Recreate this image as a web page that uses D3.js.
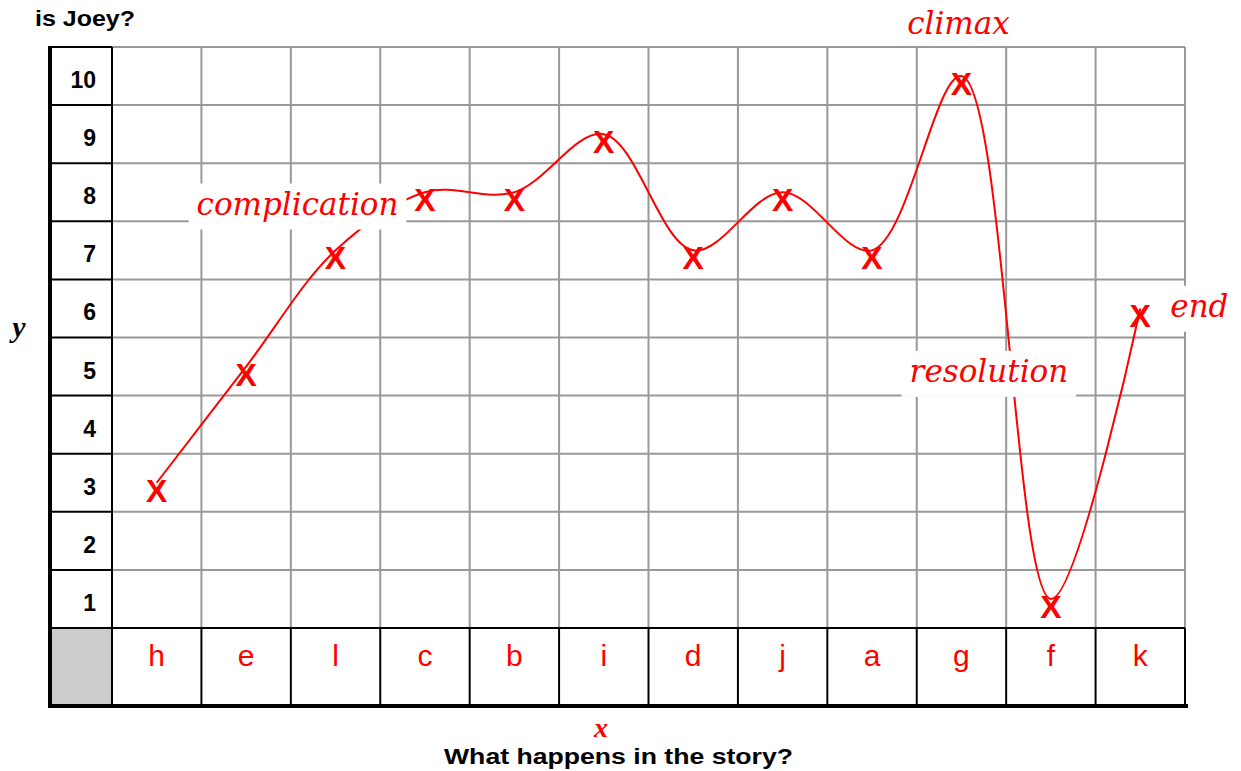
<!DOCTYPE html>
<html>
<head>
<meta charset="utf-8">
<script src="https://cdn.jsdelivr.net/npm/d3@7"></script>
<style>
  body { margin: 0; background: #fff; }
  svg { display: block; }
</style>
</head>
<body>
<div id="chart"></div>
<script>
// story events along the x axis, in drawing order
const categories = ["h", "e", "l", "c", "b", "i", "d", "j", "a", "g", "f", "k"];
// how happy Joey is at each event
const happiness = [3, 5, 7, 8, 8, 9, 7, 8, 7, 10, 1, 6];
const yTicks = [1, 2, 3, 4, 5, 6, 7, 8, 9, 10];

// story-arc notes, anchored to an event and a happiness level
const noteText = ["complication", "climax", "resolution", "end"];
const noteEvent = ["l", "g", "f", "k"];
const noteLevel = [7.5, 10, 4.5, 5.5];

var width = 1241, height = 771;
var m = {left: 50, label: 112, right: 1185, top: 47, grid: 628, bottom: 706};
var sansFont = "Arial, 'Liberation Sans', sans-serif";
var serifFont = "'Liberation Serif', 'Times New Roman', serif";

var svg = d3.select("#chart").append("svg")
    .attr("width", width)
    .attr("height", height);

var x = d3.scaleBand()
    .domain(categories)
    .range([m.label, m.right]);

var y = d3.scaleLinear()
    .domain([0, 10])
    .range([m.grid, m.top]);

var cx = function(c) { return x(c) + x.bandwidth() / 2; };
var colEdges = categories.slice(1).map(function(c) { return x(c); }).concat([m.right]);

// grey corner cell
svg.append("rect")
    .attr("x", m.left).attr("y", m.grid)
    .attr("width", m.label - m.left).attr("height", m.bottom - m.grid)
    .attr("fill", "#cccccc");

// grid lines (grey)
var grid = svg.append("g").attr("stroke", "#999").attr("stroke-width", 2);
grid.selectAll(".h")
    .data(d3.range(1, 11))
    .enter().append("line")
    .attr("x1", m.label).attr("x2", m.right)
    .attr("y1", function(d) { return y(d); })
    .attr("y2", function(d) { return y(d); });
grid.selectAll(".v")
    .data(colEdges)
    .enter().append("line")
    .attr("x1", function(d) { return d; })
    .attr("x2", function(d) { return d; })
    .attr("y1", m.top).attr("y2", m.grid);

// label column and bottom label row (black)
var frame = svg.append("g").attr("stroke", "#000").attr("stroke-width", 2);
frame.selectAll(".lh")
    .data(d3.range(0, 11))
    .enter().append("line")
    .attr("x1", m.left).attr("x2", m.label)
    .attr("y1", function(d) { return y(d); })
    .attr("y2", function(d) { return y(d); });
frame.append("line")
    .attr("x1", m.label).attr("x2", m.label)
    .attr("y1", m.top).attr("y2", m.bottom);
frame.append("line")
    .attr("x1", m.label).attr("x2", m.right)
    .attr("y1", m.grid).attr("y2", m.grid);
frame.selectAll(".bv")
    .data(colEdges)
    .enter().append("line")
    .attr("x1", function(d) { return d; })
    .attr("x2", function(d) { return d; })
    .attr("y1", m.grid).attr("y2", m.bottom);

// heavy axis lines
svg.append("line")
    .attr("x1", m.left).attr("x2", m.left)
    .attr("y1", m.top - 1).attr("y2", m.bottom + 2)
    .attr("stroke", "#000").attr("stroke-width", 4);
svg.append("line")
    .attr("x1", m.left - 2).attr("x2", m.right + 3)
    .attr("y1", m.bottom).attr("y2", m.bottom)
    .attr("stroke", "#000").attr("stroke-width", 4);

// y tick labels
svg.append("g").selectAll("text")
    .data(yTicks)
    .enter().append("text")
    .attr("x", 96)
    .attr("y", function(d) { return y(d - 0.5) + 12; })
    .attr("text-anchor", "end")
    .style("font-family", sansFont)
    .style("font-weight", "bold")
    .style("font-size", "23px")
    .text(function(d) { return d; });

// category labels
svg.append("g").selectAll("text")
    .data(categories)
    .enter().append("text")
    .attr("x", function(d) { return cx(d); })
    .attr("y", 666)
    .attr("text-anchor", "middle")
    .attr("fill", "#ff0000")
    .style("font-family", sansFont)
    .style("font-size", "30px")
    .text(function(d) { return d; });

// the story arc
var pts = categories.map(function(c, i) { return [cx(c), y(happiness[i] - 0.5)]; });
svg.append("path")
    .datum(pts)
    .attr("d", d3.line().curve(d3.curveCatmullRom.alpha(0.5)))
    .attr("fill", "none")
    .attr("stroke", "#ff0000")
    .attr("stroke-width", 2);

// notes with white boxes behind them
var noteDx = [-38, -3, -62, 30];
var noteDy = [13, -22, 6, -1];
var noteAnchor = ["middle", "middle", "middle", "start"];
var notes = svg.append("g");
noteText.forEach(function(t, i) {
    var nx = cx(noteEvent[i]) + noteDx[i];
    var ny = y(noteLevel[i]) + noteDy[i];
    var g = notes.append("g");
    var txt = g.append("text")
        .attr("x", nx).attr("y", ny)
        .attr("dy", "0.3em")
        .attr("text-anchor", noteAnchor[i])
        .attr("fill", "#ff0000")
        .style("font-family", "'DejaVu Serif', serif")
        .style("font-style", "italic")
        .style("font-size", "31px")
        .text(t);
    if (t != "climax") {
        var bb = txt.node().getBBox();
        g.insert("rect", "text")
            .attr("x", bb.x - 8).attr("y", bb.y - 2)
            .attr("width", bb.width + 16).attr("height", bb.height + 10)
            .attr("fill", "#fff");
    }
});

// X markers
svg.append("g").selectAll("text")
    .data(categories)
    .enter().append("text")
    .attr("x", function(d) { return cx(d); })
    .attr("y", function(d, i) { return y(happiness[i] - 0.5) + 19; })
    .attr("text-anchor", "middle")
    .attr("fill", "#ff0000")
    .style("font-family", sansFont)
    .style("font-weight", "bold")
    .style("font-size", "32px")
    .text("X");

// axis titles
svg.append("text")
    .attr("x", 35).attr("y", 26)
    .attr("textLength", 100).attr("lengthAdjust", "spacingAndGlyphs")
    .style("font-family", sansFont)
    .style("font-weight", "bold").style("font-size", "22px")
    .text("is Joey?");
svg.append("text")
    .attr("x", 19).attr("y", 337)
    .attr("text-anchor", "middle")
    .style("font-family", serifFont)
    .style("font-weight", "bold").style("font-style", "italic").style("font-size", "30px")
    .text("y");
svg.append("text")
    .attr("x", 601).attr("y", 737)
    .attr("text-anchor", "middle")
    .attr("fill", "#ff0000")
    .style("font-family", serifFont)
    .style("font-weight", "bold").style("font-style", "italic").style("font-size", "28px")
    .text("x");
svg.append("text")
    .attr("x", 444).attr("y", 764)
    .attr("textLength", 349).attr("lengthAdjust", "spacingAndGlyphs")
    .style("font-family", sansFont)
    .style("font-weight", "bold").style("font-size", "22px")
    .text("What happens in the story?");
</script>
</body>
</html>
